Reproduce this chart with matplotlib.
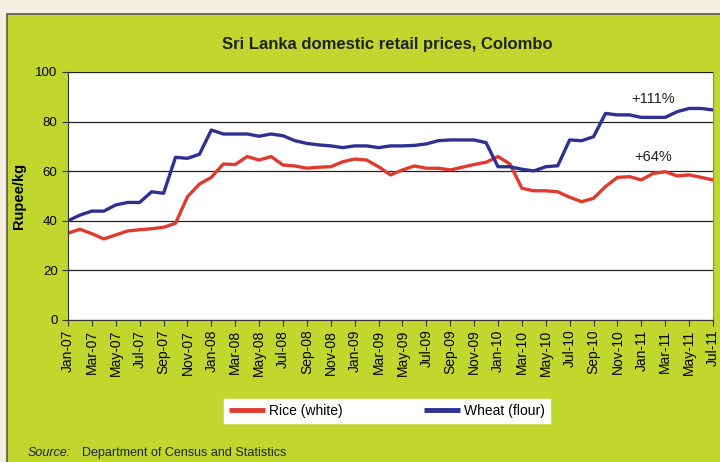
import numpy as np
import matplotlib
matplotlib.use('Agg')
import matplotlib.pyplot as plt
from matplotlib.patches import Rectangle

plt.rcParams['font.family'] = ['Liberation Sans', 'DejaVu Sans']

# monthly, Jan-07 .. Jul-11 (Rupee/kg)
months = 55
rice = [35.0, 36.6, 34.8, 32.7, 34.3, 35.9, 36.4, 36.8, 37.4, 39.0,
        49.7, 54.8, 57.5, 62.9, 62.7, 65.9, 64.5, 65.9, 62.5, 62.1,
        61.2, 61.6, 61.8, 63.8, 64.9, 64.5, 61.8, 58.5, 60.5, 62.1,
        61.2, 61.2, 60.5, 61.6, 62.7, 63.6, 65.9, 62.9, 53.1, 52.1,
        52.1, 51.7, 49.5, 47.7, 49.1, 53.8, 57.5, 57.8, 56.5, 59.1,
        59.8, 58.1, 58.5, 57.5, 56.5]
wheat = [40.0, 42.3, 43.9, 43.9, 46.4, 47.4, 47.4, 51.7, 51.1, 65.6,
         65.2, 66.8, 76.6, 75.0, 75.0, 75.0, 74.1, 75.0, 74.3, 72.3,
         71.2, 70.6, 70.2, 69.5, 70.2, 70.2, 69.5, 70.2, 70.2, 70.4,
         71.0, 72.3, 72.6, 72.6, 72.6, 71.5, 61.8, 61.8, 60.8, 60.1,
         61.8, 62.2, 72.6, 72.3, 73.9, 83.3, 82.7, 82.7, 81.7, 81.7,
         81.7, 84.0, 85.3, 85.3, 84.7]
mon_names = ['Jan', 'Mar', 'May', 'Jul', 'Sep', 'Nov']
tick_labels = [f'{mon_names[(i // 2) % 6]}-{7 + i // 12:02d}' for i in range(0, months, 2)]

GREEN = '#c0d72e'
fig = plt.figure(figsize=(7.2, 4.62), dpi=100)
fig.patch.set_facecolor('#f3efe1')
fig.patches.append(Rectangle((7 / 720, -0.01), 1.0, 1 - 14 / 462 + 0.01,
                             transform=fig.transFigure, facecolor=GREEN,
                             edgecolor='#555555', linewidth=1.2, zorder=-10))

ax = fig.add_axes([68 / 720, 1 - 320 / 462, 645 / 720, 248 / 462])
x = np.arange(months)
ax.plot(x, rice, color='#e03a2f', lw=2.4, label='Rice (white)', solid_joinstyle='round')
ax.plot(x, wheat, color='#2e3192', lw=2.4, label='Wheat (flour)', solid_joinstyle='round')

ax.set_xlim(0, months - 1)
ax.set_ylim(0, 100)
ax.set_yticks(range(0, 101, 20))
ax.set_xticks(range(0, months, 2))
ax.set_xticklabels(tick_labels, rotation=90, fontsize=10)
ax.tick_params(axis='y', labelsize=9.5, direction='out', length=4, color='#333333')
ax.tick_params(axis='x', direction='out', length=4, color='#333333', pad=3)
ax.grid(True, axis='y', color='#222222', lw=0.9)
ax.set_axisbelow(True)
ax.spines['top'].set_visible(False)
ax.spines['right'].set_color('#888888')
ax.spines['left'].set_color('#333333')
ax.spines['bottom'].set_color('#333333')
ax.set_ylabel('Rupee/kg', fontsize=10.5, fontweight='bold', labelpad=7)

ax.text(49, 89, '+111%', ha='center', va='center', fontsize=10.5, color='#222222')
ax.text(49, 65.7, '+64%', ha='center', va='center', fontsize=10.5, color='#222222')

fig.text(387 / 720, 1 - 44 / 462, 'Sri Lanka domestic retail prices, Colombo',
         ha='center', va='center', fontsize=12, fontweight='bold', color='#222222')

leg = fig.legend(loc='center', bbox_to_anchor=(387 / 720, 1 - 411 / 462), ncol=2,
                 frameon=True, fancybox=False, framealpha=1, fontsize=10,
                 handlelength=2.6, handletextpad=0.25, columnspacing=5.9,
                 borderpad=0.35, borderaxespad=0)
leg.get_frame().set_facecolor('white')
leg.get_frame().set_edgecolor('white')
for line in leg.get_lines():
    line.set_linewidth(3.5)
    line.set_solid_capstyle('butt')

fig.text(28 / 720, 1 - 453 / 462, 'Source:', ha='left', va='center',
         fontsize=9, style='italic', color='#222222')
fig.text(82 / 720, 1 - 453 / 462, 'Department of Census and Statistics', ha='left',
         va='center', fontsize=9, color='#222222')

fig.savefig('out.png', dpi=100, facecolor=fig.get_facecolor())
